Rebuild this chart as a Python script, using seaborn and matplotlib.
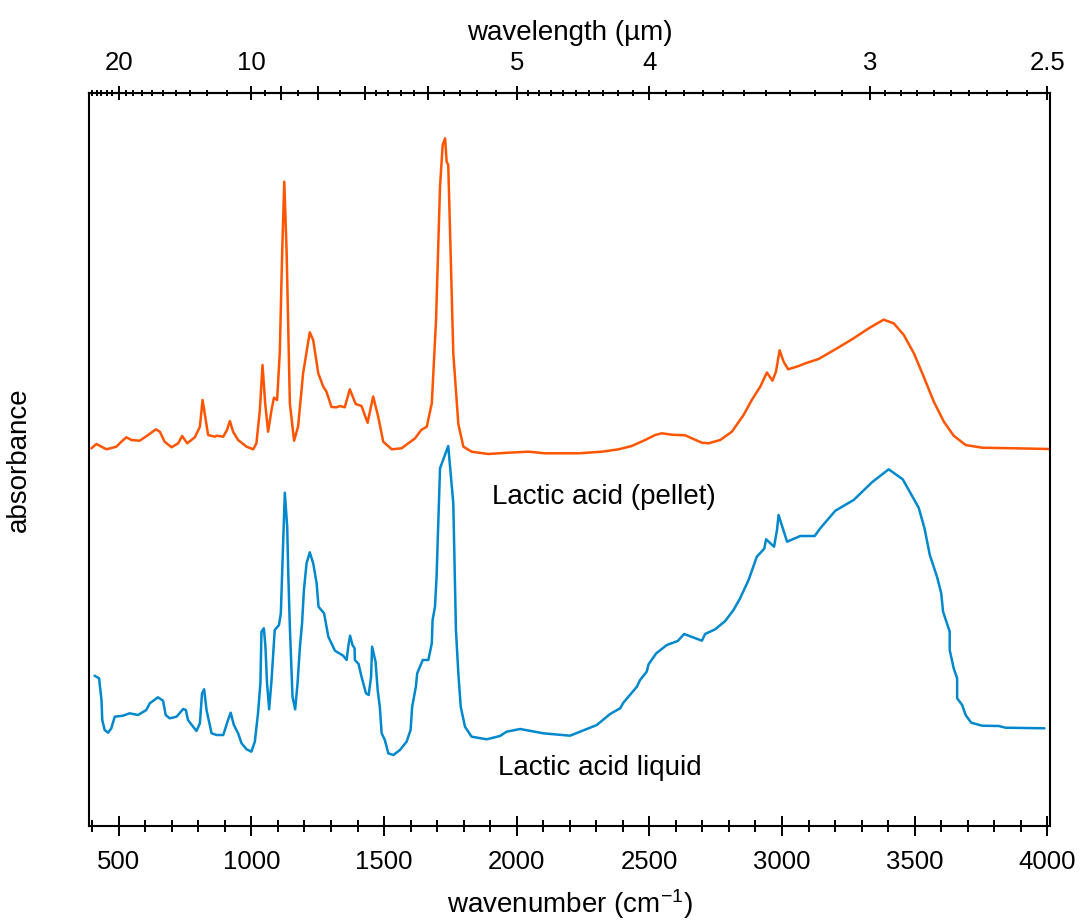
import numpy as np
import pandas as pd
import matplotlib
matplotlib.use("Agg")
import matplotlib.pyplot as plt
import seaborn as sns
from matplotlib.ticker import FixedLocator, FuncFormatter, MultipleLocator

# ---------------- data ----------------
pellet_wn = [397, 416, 435, 454, 491, 510, 529, 548, 579, 611, 640, 655, 673, 699, 724, 739,
             758, 787, 806, 816, 824, 837, 862, 869, 894, 908, 919, 931, 950, 982, 1007, 1019,
             1032, 1042, 1052, 1063, 1076, 1085, 1097, 1107, 1116, 1124, 1133, 1145, 1161, 1176,
             1195, 1220, 1233, 1252, 1271, 1283, 1302, 1321, 1334, 1352, 1371, 1393, 1415, 1438,
             1459, 1478, 1497, 1529, 1566, 1617, 1640, 1661, 1680, 1696, 1711, 1721, 1730, 1736,
             1742, 1751, 1761, 1780, 1799, 1830, 1893, 1968, 2044, 2107, 2233, 2321, 2384, 2434,
             2484, 2522, 2547, 2585, 2635, 2660, 2698, 2723, 2767, 2811, 2855, 2886, 2918, 2943,
             2964, 2977, 2991, 3006, 3023, 3063, 3088, 3138, 3201, 3264, 3327, 3383, 3421, 3459,
             3497, 3534, 3572, 3610, 3647, 3692, 3754, 3880, 4005]
pellet_abs = [377.7, 382.0, 379.3, 376.7, 379.3, 384.3, 388.7, 386.0, 385.3, 391.0, 396.7, 394.3,
              384.3, 378.7, 382.7, 390.0, 382.7, 388.7, 399.3, 426.0, 412.7, 391.0, 389.3, 390.3,
              389.3, 396.0, 405.0, 394.3, 386.0, 379.3, 376.7, 382.7, 416.0, 461.0, 422.7, 394.3,
              416.0, 428.3, 426.0, 473.0, 573.0, 644.3, 572.7, 422.7, 385.3, 399.3, 452.7, 493.7,
              486.0, 452.7, 439.3, 434.3, 419.0, 418.7, 420.0, 418.7, 436.7, 422.0, 420.0, 403.3,
              429.5, 409.3, 384.3, 376.7, 377.7, 387.7, 396.0, 399.3, 422.7, 506.0, 639.3, 681.0,
              687.7, 664.3, 661.0, 572.7, 472.7, 402.0, 379.3, 374.3, 372.0, 373.3, 374.3, 372.7,
              372.7, 374.3, 376.7, 380.0, 386.0, 391.0, 392.7, 391.3, 390.7, 387.7, 383.3, 382.7,
              386.0, 394.3, 411.0, 426.0, 439.3, 453.5, 445.3, 454.3, 475.7, 464.3, 456.7, 460.0,
              462.7, 467.0, 476.7, 486.7, 497.7, 506.3, 502.7, 491.0, 472.7, 449.3, 424.3, 404.3,
              390.3, 381.0, 378.3, 377.7, 377.0]

liquid_wn = [409, 426, 435, 438, 447, 460, 472, 485, 516, 541, 573, 604, 617, 648, 667, 677, 692,
             718, 743, 753, 761, 793, 806, 814, 822, 831, 850, 869, 894, 912, 922, 934, 950, 963,
             982, 1000, 1013, 1025, 1034, 1038, 1047, 1053, 1059, 1067, 1076, 1088, 1104, 1111,
             1116, 1126, 1135, 1139, 1145, 1151, 1155, 1165, 1174, 1183, 1191, 1198, 1208, 1220,
             1233, 1246, 1253, 1274, 1290, 1315, 1346, 1359, 1366, 1372, 1381, 1389, 1390, 1404,
             1415, 1432, 1442, 1451, 1455, 1468, 1476, 1484, 1491, 1503, 1516, 1535, 1560, 1585,
             1600, 1606, 1620, 1625, 1646, 1667, 1680, 1683, 1692, 1698, 1711, 1742, 1761, 1771,
             1780, 1789, 1805, 1830, 1887, 1937, 1962, 2013, 2100, 2201, 2239, 2302, 2352, 2390,
             2402, 2453, 2465, 2490, 2497, 2526, 2566, 2607, 2631, 2698, 2710, 2748, 2786, 2817,
             2842, 2874, 2905, 2933, 2940, 2970, 2981, 2987, 3019, 3069, 3123, 3144, 3201, 3270,
             3339, 3402, 3455, 3515, 3537, 3557, 3584, 3600, 3607, 3632, 3632, 3647, 3660, 3660,
             3679, 3692, 3713, 3754, 3817, 3842, 3989]
liquid_abs = [150.3, 147.7, 126.0, 106.0, 96.0, 93.3, 97.7, 109.3, 110.3, 112.7, 111.0, 116.0,
              122.7, 128.7, 125.3, 111.0, 107.7, 109.3, 117.0, 116.0, 106.0, 95.0, 102.7, 132.7,
              136.7, 116.0, 92.7, 91.0, 91.0, 106.0, 113.3, 101.0, 92.7, 82.7, 76.7, 74.3, 84.3,
              112.7, 142.7, 194.3, 197.7, 179.3, 142.7, 116.7, 146.0, 196.0, 201.0, 212.7, 252.7,
              333.3, 299.3, 252.7, 199.3, 156.0, 129.3, 116.7, 142.7, 179.3, 202.7, 236.0, 262.7,
              273.7, 262.7, 242.7, 219.3, 212.7, 189.3, 175.3, 170.3, 166.0, 181.0, 190.3, 181.0,
              177.7, 166.0, 162.0, 149.3, 132.7, 131.0, 148.7, 179.3, 164.3, 136.0, 119.3, 92.7,
              86.0, 72.7, 71.0, 76.0, 84.3, 96.0, 119.3, 139.3, 152.7, 166.0, 166.0, 182.7, 206.0,
              219.3, 249.3, 357.7, 380.0, 322.7, 196.0, 152.7, 119.3, 99.3, 89.3, 86.7, 90.0, 94.3,
              97.0, 92.7, 90.3, 94.3, 101.0, 112.0, 117.7, 123.3, 139.3, 146.0, 154.3, 161.7,
              172.7, 181.0, 185.0, 192.0, 185.3, 192.0, 196.7, 205.0, 216.0, 227.7, 246.0, 269.3,
              277.3, 286.7, 279.3, 296.0, 311.0, 284.3, 290.0, 290.0, 297.7, 315.3, 326.0, 343.7,
              356.7, 346.7, 318.3, 297.7, 271.0, 249.3, 232.7, 214.3, 194.3, 176.0, 157.7, 147.7,
              127.7, 121.0, 111.0, 103.3, 100.3, 100.0, 98.3, 97.7]

series_names = ["Lactic acid (pellet)", "Lactic acid liquid"]
series_colors = ["#FF5500", "#0088CC"]
label_pos_wn = [2329, 2314]
label_pos_abs = [329, 58]

wn_major = [500, 1000, 1500, 2000, 2500, 3000, 3500, 4000]
wl_major = [20, 10, 9, 8, 7, 6, 5, 4, 3, 2.5]
wl_labeled = ["20", "10", "5", "4", "3", "2.5"]
wl_minor = [25, 24, 23, 22, 21, 19, 18, 17, 16, 15, 14, 13, 12, 11,
            9.5, 8.5, 7.5,
            6.8, 6.6, 6.4, 6.2,
            5.8, 5.6, 5.4, 5.2,
            4.9, 4.8, 4.7, 4.6, 4.5, 4.4, 4.3, 4.2, 4.1,
            3.9, 3.8, 3.7, 3.6, 3.5, 3.4, 3.3, 3.2, 3.1,
            2.95, 2.9, 2.85, 2.8, 2.75, 2.7, 2.65, 2.6, 2.55]

# ---------------- style ----------------
sns.set_style("ticks")
plt.rcParams["font.family"] = ["Liberation Sans", "DejaVu Sans"]
plt.rcParams["mathtext.fontset"] = "custom"
plt.rcParams["mathtext.rm"] = "Liberation Sans"
plt.rcParams["mathtext.it"] = "Liberation Sans"
plt.rcParams["mathtext.default"] = "regular"
plt.rcParams["text.color"] = "black"
plt.rcParams["axes.labelcolor"] = "black"
plt.rcParams["xtick.color"] = "black"
plt.rcParams["ytick.color"] = "black"
plt.rcParams["lines.solid_joinstyle"] = "round"
FS_TICK = 18.5
FS_LAB = 20

df = pd.concat([
    pd.DataFrame({"wavenumber": pellet_wn, "absorbance": pellet_abs, "sample": series_names[0]}),
    pd.DataFrame({"wavenumber": liquid_wn, "absorbance": liquid_abs, "sample": series_names[1]}),
], ignore_index=True)

fig = plt.figure(figsize=(10.81, 9.24), dpi=100)
ax = fig.add_axes([89 / 1081, 1 - 826 / 924, (1050 - 89) / 1081, (826 - 93) / 924])

sns.lineplot(data=df, x="wavenumber", y="absorbance", hue="sample",
             palette=dict(zip(series_names, series_colors)),
             estimator=None, sort=False, legend=False, linewidth=1.8, ax=ax)

for name, xw, ya in zip(series_names, label_pos_wn, label_pos_abs):
    ax.text(xw, ya, name, ha="center", va="center", fontsize=FS_LAB, color="black")

ax.set_xlim(388, 4010)
ax.set_ylim(0, 733)
ax.set_yticks([])
ax.set_ylabel("absorbance", fontsize=FS_LAB)
ax.yaxis.set_label_coords(-0.059, 0.5)
ax.set_xlabel("wavenumber (cm$^{-1}$)", fontsize=FS_LAB, labelpad=9)

ax.xaxis.set_major_locator(FixedLocator(wn_major))
ax.xaxis.set_minor_locator(MultipleLocator(100))
ax.xaxis.set_major_formatter(FuncFormatter(lambda v, p: f"{int(round(v))}"))
ax.tick_params(axis="x", which="major", direction="inout", length=15, width=1.4,
               labelsize=FS_TICK, pad=10, color="black", labelcolor="black")
ax.tick_params(axis="x", which="minor", direction="inout", length=8.5, width=1.4, color="black")
for s in ax.spines.values():
    s.set_visible(True)
    s.set_linewidth(1.5)
    s.set_color("black")


def inv(x):
    x = np.array(x, dtype=float)
    with np.errstate(divide="ignore", invalid="ignore"):
        return 1e4 / x


secax = ax.secondary_xaxis("top", functions=(inv, inv))
secax.xaxis.set_major_locator(FixedLocator(wl_major))
secax.xaxis.set_minor_locator(FixedLocator(wl_minor))


def wl_fmt(v, p):
    s = f"{v:g}"
    return s if s in wl_labeled else ""


secax.xaxis.set_major_formatter(FuncFormatter(wl_fmt))
secax.tick_params(axis="x", which="major", direction="inout", length=9.5, width=1.4,
                  labelsize=FS_TICK, pad=8, color="black", labelcolor="black")
secax.tick_params(axis="x", which="minor", direction="inout", length=5, width=1.4, color="black")
secax.spines["top"].set_linewidth(1.5)
secax.spines["top"].set_color("black")
secax.set_xlabel("wavelength (µm)", fontsize=FS_LAB, labelpad=8, color="black")

fig.savefig("out.png", dpi=100, facecolor="white")
